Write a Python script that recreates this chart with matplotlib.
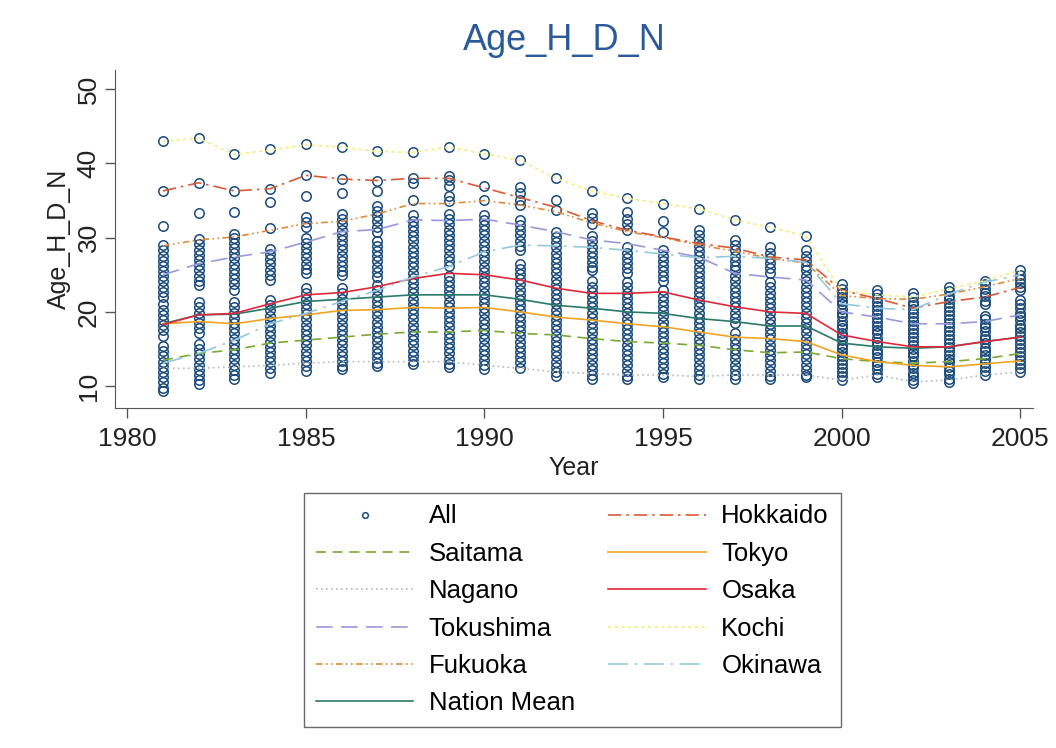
import matplotlib
matplotlib.use("Agg")
import matplotlib.pyplot as plt

plt.rcParams['font.family'] = ['Liberation Sans', 'DejaVu Sans']

years = list(range(1981, 2006))

# prefecture series
hokkaido = [36.3, 37.4, 36.3, 36.6, 38.4, 37.9, 37.7, 38.0, 38.0, 36.7, 35.4, 34.1, 32.3,
            31.0, 30.1, 29.2, 28.6, 27.4, 27.0, 22.9, 21.8, 20.5, 21.4, 22.0, 23.3]
saitama = [13.5, 14.4, 14.9, 15.8, 16.2, 16.6, 17.0, 17.3, 17.3, 17.5, 17.1, 16.9, 16.4,
           16.0, 15.8, 15.5, 14.9, 14.5, 14.6, 13.7, 13.3, 13.1, 13.3, 13.7, 14.4]
tokyo = [18.4, 18.7, 18.4, 19.1, 19.6, 20.2, 20.3, 20.6, 20.5, 20.6, 20.0, 19.3, 18.9,
         18.4, 18.0, 17.3, 16.6, 16.4, 16.0, 14.2, 13.3, 12.8, 12.6, 13.0, 13.4]
nagano = [12.4, 12.4, 12.6, 12.8, 13.1, 13.3, 13.3, 13.3, 13.3, 12.8, 12.4, 11.9, 11.7,
          11.5, 11.5, 11.3, 11.5, 11.5, 11.5, 10.8, 11.5, 10.6, 10.8, 11.5, 11.9]
osaka = [18.3, 19.6, 19.8, 21.1, 22.3, 22.6, 23.4, 24.5, 25.2, 25.0, 24.3, 23.2, 22.5,
         22.5, 22.7, 21.6, 20.7, 20.0, 19.8, 16.9, 16.0, 15.3, 15.3, 16.0, 16.6]
tokushima = [25.0, 26.5, 27.4, 28.1, 29.4, 30.8, 31.1, 32.4, 32.3, 32.5, 31.7, 30.8, 29.7,
             29.2, 28.3, 27.4, 25.2, 24.7, 24.3, 20.0, 19.3, 18.4, 18.4, 18.7, 19.6]
kochi = [43.0, 43.4, 41.2, 41.8, 42.5, 42.2, 41.6, 41.5, 42.2, 41.3, 40.4, 38.0, 36.3,
         35.3, 34.6, 33.9, 32.4, 31.4, 30.2, 22.8, 22.3, 22.0, 23.1, 24.2, 25.6]
fukuoka = [28.9, 29.7, 30.1, 31.0, 31.9, 32.2, 33.2, 34.6, 34.6, 35.0, 34.4, 33.5, 32.0,
           30.8, 30.0, 29.0, 28.2, 27.2, 26.6, 22.2, 21.8, 21.7, 22.4, 23.4, 24.5]
okinawa = [13.1, 14.4, 16.2, 18.4, 19.8, 21.4, 22.9, 24.7, 26.1, 28.1, 29.0, 28.9, 28.7,
           28.3, 27.8, 27.3, 27.5, 27.2, 26.7, 21.1, 20.5, 20.3, 22.4, 24.0, 25.0]
nation_mean = [18.4, 19.6, 19.7, 20.5, 21.4, 21.7, 22.0, 22.3, 22.3, 22.3, 21.7, 20.9, 20.5,
               20.0, 19.8, 19.1, 18.7, 18.1, 18.1, 15.8, 15.3, 15.1, 15.3, 16.0, 16.6]

# all prefectures, one list per year
all_vals = [
    [43.0, 36.3, 31.6, 29.0, 28.3, 27.6, 26.9, 26.2, 25.5, 24.8, 24.1, 23.4, 22.7, 22.0, 21.0, 20.3,
     19.6, 18.9, 18.2, 17.5, 16.8, 15.4, 14.7, 14.0, 13.3, 12.6, 11.9, 11.2, 10.5, 9.8, 9.3],
    [43.4, 37.4, 33.3, 29.8, 29.1, 28.4, 27.7, 27.0, 26.3, 25.6, 24.9, 24.2, 23.6, 21.3, 20.6, 19.9,
     19.2, 18.5, 17.8, 17.1, 15.7, 15.0, 14.3, 13.6, 12.9, 12.2, 11.5, 10.8, 10.3],
    [41.3, 36.3, 33.4, 30.5, 30.0, 29.3, 28.6, 27.9, 27.2, 26.5, 25.8, 25.1, 24.4, 23.7, 23.0, 21.3,
     20.6, 19.9, 19.2, 18.5, 17.8, 17.1, 16.4, 15.7, 15.0, 14.3, 13.6, 12.9, 12.2, 11.5, 10.9],
    [41.9, 36.6, 34.8, 31.3, 28.5, 27.8, 27.1, 26.4, 25.7, 25.0, 24.3, 21.6, 20.9, 20.2, 19.5, 18.8,
     18.1, 17.4, 16.7, 16.0, 15.3, 14.6, 13.9, 13.2, 12.5, 11.8],
    [42.6, 38.4, 35.6, 32.8, 32.1, 31.5, 30.0, 29.3, 28.6, 27.9, 27.2, 26.5, 25.8, 25.2, 23.2, 22.5,
     21.8, 21.1, 20.4, 19.7, 19.0, 18.3, 17.6, 16.9, 16.2, 15.5, 14.8, 14.1, 13.4, 12.7, 12.0],
    [42.2, 37.9, 36.0, 33.2, 32.5, 31.8, 31.1, 30.4, 29.7, 29.0, 28.3, 27.6, 26.9, 26.2, 25.5, 25.0,
     23.2, 22.5, 21.8, 21.1, 20.4, 19.7, 19.0, 18.3, 17.6, 16.9, 16.2, 15.5, 14.8, 14.1, 13.4, 12.7, 12.3],
    [41.7, 37.7, 36.3, 34.3, 33.6, 32.9, 32.2, 31.5, 30.7, 29.6, 28.9, 28.2, 27.5, 26.8, 26.1, 25.4,
     24.7, 23.6, 22.9, 22.2, 21.5, 20.8, 20.1, 19.4, 18.7, 18.0, 17.3, 16.6, 15.9, 15.2, 14.5, 13.8,
     13.1, 12.7],
    [41.6, 38.0, 37.4, 35.1, 33.0, 32.3, 31.6, 30.9, 30.2, 29.5, 28.8, 28.1, 27.4, 26.7, 26.0, 25.3,
     24.6, 23.9, 23.2, 22.5, 21.8, 21.1, 20.4, 19.7, 19.0, 18.3, 17.6, 16.9, 16.2, 15.5, 14.8, 14.1,
     13.4, 13.0],
    [42.2, 38.3, 37.8, 37.0, 35.6, 35.0, 33.2, 32.5, 31.8, 31.1, 30.4, 29.7, 29.0, 28.3, 27.6, 26.9,
     26.2, 24.9, 24.2, 23.5, 22.8, 22.1, 21.4, 20.7, 20.0, 19.3, 18.6, 17.9, 17.2, 16.5, 15.8, 15.1,
     14.4, 13.7, 13.0, 12.6],
    [41.3, 37.0, 35.1, 33.1, 32.4, 31.7, 31.0, 30.3, 29.6, 28.9, 28.2, 27.5, 26.8, 26.1, 25.4, 24.7,
     24.0, 23.3, 22.6, 21.9, 21.2, 20.5, 19.8, 19.1, 18.4, 17.7, 17.0, 16.3, 15.6, 14.9, 14.2, 13.5,
     12.8, 12.3],
    [40.4, 36.8, 36.0, 35.1, 34.4, 32.4, 31.7, 31.0, 30.3, 29.6, 28.9, 28.3, 26.5, 25.8, 25.1, 24.4,
     23.7, 23.0, 22.3, 21.6, 20.9, 20.2, 19.5, 18.8, 18.1, 17.4, 16.7, 16.0, 15.3, 14.6, 13.9, 13.2, 12.4],
    [38.0, 35.1, 33.7, 30.8, 30.1, 29.4, 28.7, 28.0, 27.3, 26.6, 25.9, 25.2, 24.5, 23.8, 23.1, 22.4,
     21.7, 21.0, 20.3, 19.6, 18.9, 18.2, 17.5, 16.8, 16.1, 15.4, 14.7, 14.0, 13.3, 12.6, 11.9, 11.3],
    [36.3, 33.3, 32.6, 31.9, 30.2, 29.5, 28.8, 28.1, 27.4, 26.7, 26.0, 25.6, 24.1, 23.4, 22.7, 22.0,
     21.3, 20.6, 19.9, 19.2, 18.5, 17.8, 17.1, 16.4, 15.7, 15.0, 14.3, 13.6, 12.9, 12.2, 11.5, 10.9],
    [35.3, 33.5, 32.5, 31.8, 31.0, 28.7, 28.0, 27.3, 26.6, 25.9, 25.2, 24.0, 23.3, 22.6, 21.9, 21.2,
     20.5, 19.8, 19.1, 18.4, 17.7, 17.0, 16.3, 15.6, 14.9, 14.2, 13.5, 12.8, 12.1, 11.4, 10.9],
    [34.6, 32.2, 30.8, 28.3, 27.6, 26.9, 26.2, 25.5, 24.8, 24.1, 22.9, 22.2, 21.5, 20.8, 20.1, 19.4,
     18.7, 18.0, 17.3, 16.6, 15.9, 15.2, 14.5, 13.8, 13.1, 12.4, 11.7, 11.2],
    [33.9, 31.0, 30.3, 29.6, 28.9, 28.2, 27.5, 26.8, 26.1, 25.4, 24.7, 24.0, 23.4, 22.7, 22.0, 21.3,
     20.6, 19.9, 19.2, 18.5, 17.8, 17.1, 16.4, 15.7, 15.0, 14.3, 13.6, 12.9, 12.2, 11.5, 10.9],
    [32.4, 29.7, 29.0, 28.3, 27.6, 26.9, 26.2, 25.6, 24.8, 24.1, 23.4, 22.7, 22.0, 21.3, 20.6, 19.9,
     19.2, 18.5, 17.1, 16.4, 15.7, 15.0, 14.3, 13.6, 12.9, 12.2, 11.5, 10.9],
    [31.4, 28.7, 28.0, 27.3, 26.6, 25.9, 25.2, 24.0, 23.3, 22.6, 21.9, 21.2, 20.5, 19.8, 19.1, 18.4,
     17.7, 17.0, 16.3, 15.6, 14.9, 14.2, 13.5, 12.8, 12.1, 11.4, 10.9],
    [30.2, 28.3, 27.6, 26.9, 26.2, 25.6, 24.8, 24.1, 23.4, 22.7, 22.0, 21.3, 20.6, 19.9, 19.2, 18.5,
     17.8, 17.1, 16.4, 15.7, 15.0, 14.3, 13.6, 12.9, 12.2, 11.5, 11.2],
    [23.7, 23.1, 22.6, 22.0, 21.5, 21.0, 20.4, 19.9, 19.4, 18.8, 18.3, 17.8, 17.2, 16.7, 16.2, 15.6,
     15.1, 14.6, 14.0, 13.5, 13.0, 12.4, 11.9, 11.4, 10.8],
    [22.9, 22.4, 21.9, 21.3, 20.8, 20.3, 19.7, 19.2, 18.7, 18.1, 17.6, 17.1, 16.5, 16.0, 15.5, 14.9,
     14.4, 13.9, 13.3, 12.8, 12.3, 11.7, 11.2],
    [22.5, 22.0, 21.4, 20.9, 20.4, 19.8, 19.3, 18.8, 18.2, 17.7, 17.2, 16.6, 16.1, 15.6, 15.0, 14.5,
     14.0, 13.4, 12.9, 12.4, 11.8, 11.3, 10.8, 10.4],
    [23.3, 22.8, 22.2, 21.7, 21.2, 20.6, 20.1, 19.6, 19.0, 18.5, 18.0, 17.4, 16.9, 16.4, 15.8, 15.3,
     14.8, 14.2, 13.7, 13.2, 12.6, 12.1, 11.6, 11.0, 10.6],
    [24.2, 23.7, 23.1, 22.6, 22.1, 21.5, 21.0, 19.5, 19.0, 18.4, 17.9, 17.4, 16.8, 16.3, 15.8, 15.2,
     14.7, 14.2, 13.6, 13.1, 12.6, 12.0, 11.5],
    [25.6, 25.0, 24.5, 23.9, 23.4, 22.9, 21.6, 21.0, 20.5, 19.9, 19.4, 18.9, 18.3, 17.8, 17.3, 16.7,
     16.2, 15.7, 15.1, 14.6, 14.1, 13.5, 13.0, 12.5, 11.9],
]

fig = plt.figure(figsize=(10.56, 7.48), dpi=100)
ax = fig.add_axes([0.109, 0.4545, 0.869, 0.452])

navy = '#1a4a7a'
xs, ys = [], []
for yr, vals in zip(years, all_vals):
    xs += [yr] * len(vals)
    ys += vals
h_all, = ax.plot(xs, ys, 'o', ms=6.8, mfc='none', mec=navy, mew=1.1, ls='none', label='All')

series = [
    ('Saitama', saitama, '#7aa832', (0, (6, 4))),
    ('Nagano', nagano, '#b8b8b8', (0, (1, 2))),
    ('Tokushima', tokushima, '#9a98e0', (0, (10, 5))),
    ('Fukuoka', fukuoka, '#e08a3a', (0, (4, 2, 1, 2, 1, 2))),
    ('Nation Mean', nation_mean, '#2a7a6a', '-'),
    ('Hokkaido', hokkaido, '#d85a36', (0, (8, 3, 1.5, 3))),
    ('Tokyo', tokyo, '#f0a424', '-'),
    ('Osaka', osaka, '#e0283c', '-'),
    ('Kochi', kochi, '#f0f080', (0, (2, 2))),
    ('Okinawa', okinawa, '#94c8dc', (0, (12, 4, 1.5, 4))),
]
handles = [h_all]
for name, vals, col, ls in series:
    h, = ax.plot(years, vals, color=col, ls=ls, lw=1.2, label=name)
    handles.append(h)

ax.set_xlim(1979.66, 2005.35)
ax.set_ylim(7.05, 52.6)
ax.set_xticks([1980, 1985, 1990, 1995, 2000, 2005])
ax.set_yticks([10, 20, 30, 40, 50])
ax.spines['top'].set_visible(False)
ax.spines['right'].set_visible(False)
for s in ['left', 'bottom']:
    ax.spines[s].set_color('#555555')
ax.tick_params(direction='out', length=7, width=1, colors='#555555', labelcolor='#222222',
               labelsize=19)
ax.tick_params(axis='x', pad=7)
for lab in ax.get_yticklabels():
    lab.set_rotation(90)
    lab.set_va('center')
ax.set_xlabel('Year', fontsize=18, color='#222222', labelpad=3)
ax.set_ylabel('Age_H_D_N', fontsize=18, color='#222222', labelpad=4)
ax.set_title('Age_H_D_N', fontsize=26, color='#2a5a9a', pad=14, x=0.49)

leg = fig.legend(handles=handles, ncol=2, loc='upper center', bbox_to_anchor=(0.542, 0.341),
                 fontsize=18.5, frameon=True, fancybox=False, edgecolor='#444444',
                 handlelength=3.8, handletextpad=0.6, columnspacing=1.3, labelspacing=0.52,
                 borderpad=0.45, borderaxespad=0, markerscale=0.6)
leg.get_frame().set_linewidth(1.0)

fig.savefig('out.png', dpi=100, facecolor='white')
